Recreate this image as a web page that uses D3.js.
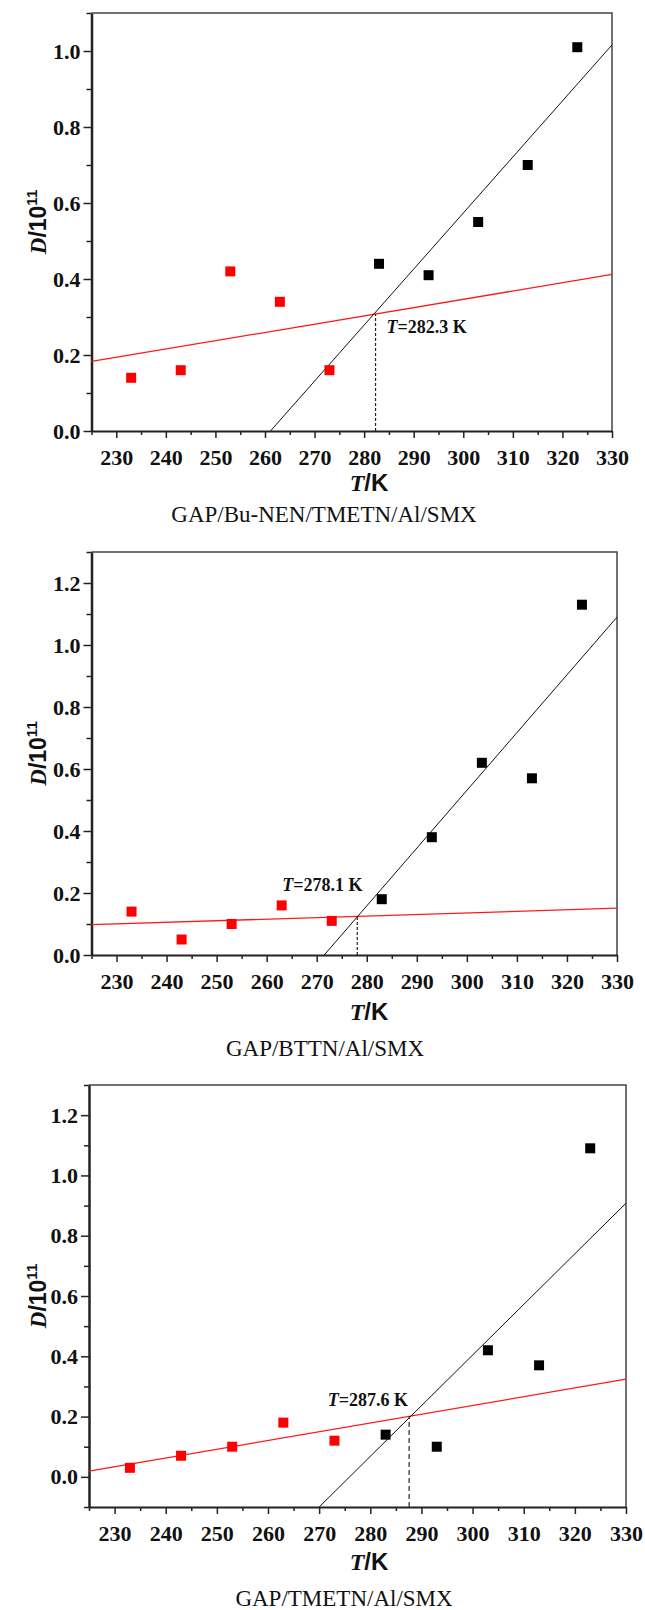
<!DOCTYPE html>
<meta charset="utf-8">
<style>
body { margin: 0; background: #fff; }
text { font-family: "Liberation Serif", "Times New Roman", serif; font-weight: bold; fill: #111; }
.sans { font-family: "Liberation Sans", Arial, sans-serif; }
.title { font-weight: normal; }
.axis path, .axis line { stroke: #222; }
</style>
<svg width="645" height="1610"></svg>
<script src="https://d3js.org/d3.v7.min.js"></script>
<script>

// temperatures of the two point groups (K)
var lowT = [233, 243, 253, 263, 273];
var highT = [283, 293, 303, 313, 323];

// x axis
var xDomain = [225, 330];
var xMajor = [230, 240, 250, 260, 270, 280, 290, 300, 310, 320, 330];
var xMinor = [225, 235, 245, 255, 265, 275, 285, 295, 305, 315, 325];

// panel 1: GAP/Bu-NEN/TMETN/Al/SMX
var title1 = "GAP/Bu-NEN/TMETN/Al/SMX";
var yDomain1 = [0, 1.1];
var yMajor1 = [0, 0.2, 0.4, 0.6, 0.8, 1.0];
var yMinor1 = [0.1, 0.3, 0.5, 0.7, 0.9, 1.1];
var red1 = [0.14, 0.16, 0.42, 0.34, 0.16];
var black1 = [0.44, 0.41, 0.55, 0.70, 1.01];
var redFit1 = [[225, 0.183], [330, 0.412]];
var blackFit1 = [[261.1, 0], [330, 1.016]];
var cross1 = 282.3;
var note1 = [284.5, 0.258];

// panel 2: GAP/BTTN/Al/SMX
var title2 = "GAP/BTTN/Al/SMX";
var yDomain2 = [0, 1.3];
var yMajor2 = [0, 0.2, 0.4, 0.6, 0.8, 1.0, 1.2];
var yMinor2 = [0.1, 0.3, 0.5, 0.7, 0.9, 1.1, 1.3];
var red2 = [0.14, 0.05, 0.10, 0.16, 0.11];
var black2 = [0.18, 0.38, 0.62, 0.57, 1.13];
var redFit2 = [[225, 0.098], [330, 0.151]];
var blackFit2 = [[271.5, 0], [330, 1.09]];
var cross2 = 278.1;
var note2 = [263.1, 0.205];

// panel 3: GAP/TMETN/Al/SMX
var title3 = "GAP/TMETN/Al/SMX";
var yDomain3 = [-0.1, 1.3];
var yMajor3 = [0, 0.2, 0.4, 0.6, 0.8, 1.0, 1.2];
var yMinor3 = [-0.1, 0.1, 0.3, 0.5, 0.7, 0.9, 1.1, 1.3];
var red3 = [0.03, 0.07, 0.10, 0.18, 0.12];
var black3 = [0.14, 0.10, 0.42, 0.37, 1.09];
var redFit3 = [[225, 0.019], [330, 0.324]];
var blackFit3 = [[270, -0.1], [330, 0.908]];
var cross3 = 287.6;
var note3 = [271.7, 0.235];

var panels = [
  { title: title1, yDomain: yDomain1, yMajor: yMajor1, yMinor: yMinor1, red: red1, black: black1,
    redFit: redFit1, blackFit: blackFit1, cross: cross1, note: note1,
    box: { left: 91.5, right: 612, top: 13, bottom: 431 }, titleX: 324, titleY: 522, tkY: 491, dash: "3,2" },
  { title: title2, yDomain: yDomain2, yMajor: yMajor2, yMinor: yMinor2, red: red2, black: black2,
    redFit: redFit2, blackFit: blackFit2, cross: cross2, note: note2,
    box: { left: 91.5, right: 617, top: 552, bottom: 955 }, titleX: 325, titleY: 1056, tkY: 1020, dash: "3,2" },
  { title: title3, yDomain: yDomain3, yMajor: yMajor3, yMinor: yMinor3, red: red3, black: black3,
    redFit: redFit3, blackFit: blackFit3, cross: cross3, note: note3,
    box: { left: 89, right: 626, top: 1085, bottom: 1507 }, titleX: 344, titleY: 1606, tkY: 1570, dash: "5,3" }
];

var svg = d3.select("svg");
svg.append("rect").attr("width", 645).attr("height", 1610).attr("fill", "#fff");

panels.forEach(drawPanel);

function drawPanel(p) {
  var b = p.box;
  var x = d3.scaleLinear().domain(xDomain).range([b.left, b.right]);
  var y = d3.scaleLinear().domain(p.yDomain).range([b.bottom, b.top]);
  var g = svg.append("g");

  // frame top / right
  g.append("path")
      .attr("d", "M" + b.left + "," + b.top + "H" + b.right + "V" + b.bottom)
      .attr("fill", "none")
      .attr("stroke", "#444")
      .attr("stroke-width", 1.5);

  // minor ticks
  g.append("g").attr("class", "axis")
      .attr("transform", "translate(0," + b.bottom + ")")
      .call(d3.axisBottom(x).tickValues(xMinor).tickSize(4).tickFormat(""))
      .call(function(s) { s.select(".domain").remove(); s.selectAll("line").attr("stroke-width", 1.5); });
  g.append("g").attr("class", "axis")
      .attr("transform", "translate(" + b.left + ",0)")
      .call(d3.axisLeft(y).tickValues(p.yMinor).tickSize(5).tickFormat(""))
      .call(function(s) { s.select(".domain").remove(); s.selectAll("line").attr("stroke-width", 1.5); });

  // major ticks + labels
  var xa = g.append("g").attr("class", "axis")
      .attr("transform", "translate(0," + b.bottom + ")")
      .call(d3.axisBottom(x).tickValues(xMajor).tickSize(7).tickSizeOuter(0).tickPadding(11).tickFormat(d3.format("d")));
  xa.selectAll("text").style("font-size", "22px").attr("fill", "#111");
  xa.selectAll("line").attr("stroke-width", 1.5);
  xa.select(".domain").attr("stroke-width", 2);

  var ya = g.append("g").attr("class", "axis")
      .attr("transform", "translate(" + b.left + ",0)")
      .call(d3.axisLeft(y).tickValues(p.yMajor).tickSize(8).tickSizeOuter(0).tickPadding(3).tickFormat(d3.format(".1f")));
  ya.selectAll("text").style("font-size", "22px").attr("fill", "#111");
  ya.selectAll("line").attr("stroke-width", 1.5);
  ya.select(".domain").attr("stroke-width", 2.5);

  // fitted lines
  var line = d3.line().x(function(d) { return x(d[0]); }).y(function(d) { return y(d[1]); });
  g.append("path").datum(p.redFit).attr("d", line)
      .attr("fill", "none").attr("stroke", "#ff1a1a").attr("stroke-width", 1.3);
  g.append("path").datum(p.blackFit).attr("d", line)
      .attr("fill", "none").attr("stroke", "#111").attr("stroke-width", 1);

  // dashed drop line at the crossing temperature
  var f = p.redFit;
  var yCross = f[0][1] + (f[1][1] - f[0][1]) * (p.cross - f[0][0]) / (f[1][0] - f[0][0]);
  g.append("line")
      .attr("x1", x(p.cross)).attr("x2", x(p.cross))
      .attr("y1", y(p.yDomain[0])).attr("y2", y(yCross))
      .attr("stroke", "#222").attr("stroke-width", 1.2)
      .attr("stroke-dasharray", p.dash);

  // points
  var s = 10;
  g.selectAll(".red").data(lowT).enter().append("rect")
      .attr("x", function(d) { return x(d) - s / 2; })
      .attr("y", function(d, i) { return y(p.red[i]) - s / 2; })
      .attr("width", s).attr("height", s).attr("fill", "#ff0000");
  g.selectAll(".blk").data(highT).enter().append("rect")
      .attr("x", function(d) { return x(d) - s / 2; })
      .attr("y", function(d, i) { return y(p.black[i]) - s / 2; })
      .attr("width", s).attr("height", s).attr("fill", "#000");

  // annotation
  var n = g.append("text")
      .attr("x", x(p.note[0])).attr("y", y(p.note[1]))
      .style("font-size", "18px");
  n.append("tspan").style("font-style", "italic").text("T");
  n.append("tspan").text("=" + p.cross.toFixed(1) + " K");

  // axis titles
  var yt = g.append("text")
      .attr("transform", "translate(46," + ((b.top + b.bottom) / 2) + ") rotate(-90)")
      .attr("text-anchor", "middle")
      .style("font-size", "23px");
  yt.append("tspan").style("font-style", "italic").text("D");
  yt.append("tspan").attr("class", "sans").text("/10");
  yt.append("tspan").attr("class", "sans").attr("dy", -9).style("font-size", "15px").text("11");

  var xt = g.append("text")
      .attr("x", 369).attr("y", p.tkY)
      .attr("text-anchor", "middle")
      .style("font-size", "24px");
  xt.append("tspan").style("font-style", "italic").text("T");
  xt.append("tspan").attr("class", "sans").text("/K");

  g.append("text").attr("class", "title")
      .attr("x", p.titleX).attr("y", p.titleY)
      .attr("text-anchor", "middle")
      .style("font-size", "23px")
      .text(p.title);
}

</script>
